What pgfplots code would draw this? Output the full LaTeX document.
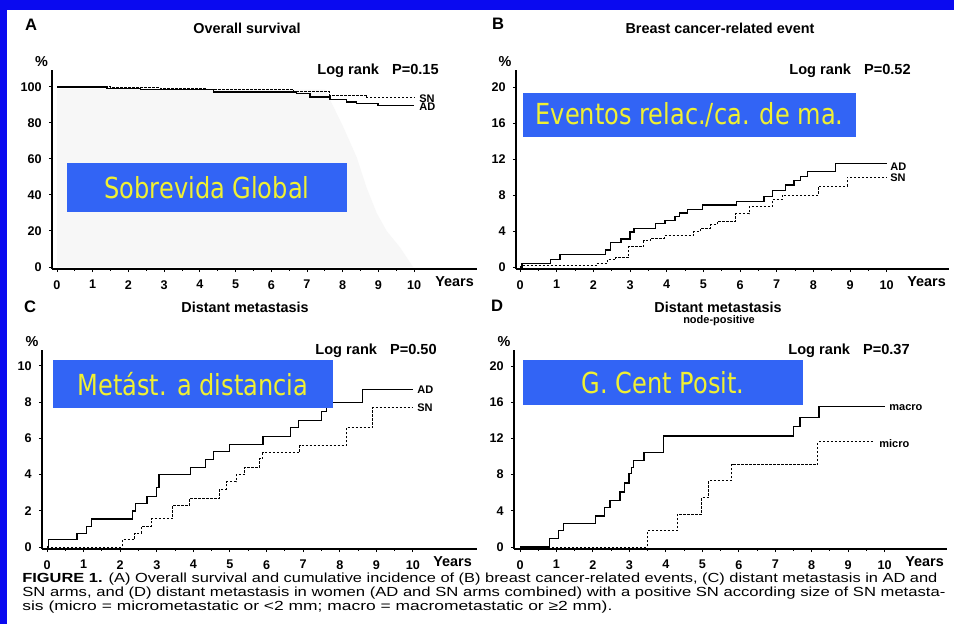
\documentclass[border=0pt]{standalone}
\usepackage{fontspec}
\setmainfont{Liberation Sans}
\newfontfamily\boxfont[FakeStretch=0.83]{DejaVu Sans}
\newfontfamily\capfont{Liberation Sans}
\usepackage{graphicx}
\usepackage{pgfplots}
\pgfplotsset{compat=1.18}
\definecolor{frameblue}{RGB}{10,10,240}
\definecolor{boxblue}{RGB}{50,100,245}
\definecolor{boxyellow}{RGB}{240,240,50}
\pgfplotsset{
  km/.style={
    scale only axis, anchor=south west,
    axis lines=left,
    axis line style={-, line width=0.9pt, black},
    tick align=outside,
    major tick length=1.6pt, minor tick length=1pt,
    tick style={black, line width=0.5pt},
    xtick={0,...,10}, minor x tick num=1,
    ticklabel style={font=\bfseries\fontsize{6.3}{7}\selectfont},
    xticklabel style={yshift=-0.5pt},
    /pgf/number format/assume math mode=true,
    clip=false,
  },
  ad/.style={const plot, black, line width=0.65pt, mark=none},
  sn/.style={const plot, black, line width=0.5pt, dash pattern=on 1.2pt off 0.8pt, mark=none},
}
\tikzset{
  ttl/.style={font=\bfseries\fontsize{7.2}{8}\selectfont, inner sep=0},
  lr/.style={font=\bfseries\fontsize{7.3}{8}\selectfont, inner sep=0},
  sm/.style={font=\bfseries\fontsize{5.5}{6}\selectfont, inner sep=0},
  pl/.style={font=\bfseries\fontsize{8.3}{9}\selectfont, inner sep=0},
  bx/.style={fill=boxblue, inner sep=0, text=boxyellow, font=\boxfont\fontsize{14.5}{16}\selectfont},
}
\begin{document}
\begin{tikzpicture}
\begin{scope}[x=0.5pt,y=-0.5pt]
\fill[frameblue] (0,0) rectangle (954,624);
\fill[white] (7,10) rectangle (954,624);
\end{scope}

% ---------- Panel A
\begin{axis}[km, at={(26pt,-134.5pt)}, width=212.5pt, height=99.5pt,
  xmin=-0.14, xmax=11.76, ymin=-1.1, ymax=109.4, ytick={0,20,...,100}]
\addplot[fill=gray!6, draw=none] coordinates {(0,98.8) (7.5,98.5) (7.74,89) (8.01,78) (8.39,61) (8.67,44) (8.95,30) (9.23,20) (9.6,11) (9.97,0)} \closedcycle;
\addplot[sn] coordinates {(0,100) (1.49,99.6) (2.89,99.1) (4.19,98.5) (6.62,97.4) (7.64,95.2) (8.67,93.9) (10,93.9)};
\addplot[ad] coordinates {(0,100) (1.4,99.1) (2.33,98.5) (4.38,97.2) (6.71,96.3) (7.08,94.4) (7.64,93.1) (8.11,91.7) (8.39,90.9) (8.99,89.6) (10,89.6)};
\end{axis}

% ---------- Panel B
\begin{axis}[km, at={(258pt,-134.5pt)}, width=216.5pt, height=99.5pt,
  xmin=-0.11, xmax=11.70, ymin=-0.22, ymax=21.9, ytick={0,4,...,20}]
\addplot[sn] coordinates {(0,0) (0.05,0.15) (2.09,0.37) (2.38,0.81) (2.61,1.1) (2.97,2.3) (3.38,2.9) (3.56,3.2) (3.93,3.5) (4.73,3.9) (4.91,4.3) (5.2,4.7) (5.38,5.1) (5.88,5.9) (6.25,6.7) (6.88,7.5) (7.15,8.0) (8.15,9.0) (8.93,10.0) (10,10.0)};
\addplot[ad] coordinates {(0,0) (0.05,0.4) (0.84,0.8) (1.09,1.4) (2.34,1.9) (2.47,2.7) (2.75,3.1) (3.0,3.9) (3.11,4.3) (3.7,4.8) (3.95,5.2) (4.23,5.6) (4.34,6.0) (4.56,6.4) (4.97,6.9) (5.91,7.3) (6.65,7.8) (6.88,8.5) (7.25,9.1) (7.47,9.6) (7.65,10.1) (7.84,10.6) (8.61,11.5) (10,11.5)};
\end{axis}

% ---------- Panel C
\begin{axis}[km, at={(21pt,-274.5pt)}, width=217.5pt, height=99.5pt,
  xmin=-0.137, xmax=11.75, ymin=-0.11, ymax=10.88, ytick={0,2,...,10}]
\addplot[sn] coordinates {(0,0) (2.06,0.41) (2.4,0.77) (2.58,1.14) (2.85,1.55) (3.44,2.3) (3.9,2.7) (4.72,3.2) (4.9,3.6) (5.17,4.0) (5.4,4.4) (5.81,4.9) (5.9,5.2) (6.9,5.6) (8.18,6.6) (8.9,7.7) (10,7.7)};
\addplot[ad] coordinates {(0,0) (0.05,0.41) (0.82,0.74) (1.07,1.14) (1.21,1.55) (2.33,1.99) (2.42,2.4) (2.73,2.77) (2.99,3.3) (3.06,4.0) (3.92,4.39) (4.34,4.83) (4.54,5.26) (4.99,5.68) (5.9,6.09) (6.65,6.59) (6.87,6.97) (7.5,7.47) (7.63,7.8) (7.75,7.97) (8.62,8.71) (10,8.71)};
\end{axis}

% ---------- Panel D
\begin{axis}[km, at={(257pt,-274.5pt)}, width=216.5pt, height=99.5pt,
  xmin=-0.165, xmax=11.71, ymin=-0.22, ymax=21.77, ytick={0,4,...,20}]
\addplot[sn] coordinates {(0,0) (3.49,1.77) (4.31,3.62) (4.98,5.46) (5.18,7.3) (5.8,9.15) (8.17,11.62) (9.7,11.62)};
\addplot[ad] coordinates {(0,0) (0.8,0.92) (1.05,1.85) (1.19,2.58) (2.07,3.43) (2.32,4.35) (2.47,5.17) (2.74,6.09) (2.87,7.08) (2.99,8.1) (3.05,8.8) (3.11,9.59) (3.4,10.44) (3.93,12.25) (7.5,13.28) (7.68,14.3) (8.2,15.5) (10,15.5)};
\end{axis}

\begin{scope}[x=0.5pt,y=-0.5pt]
% panel A texts
\node[pl] at (31,25) {A};
\node[ttl] at (247,28) {Overall survival};
\node[ttl] at (41.5,62) {\%};
\node[lr, anchor=west] at (317,71) {Log rank\hspace{6.5pt}P=0.15};
\node[sm, anchor=west] at (419,99) {SN};
\node[sm, anchor=west] at (419,107) {AD};
\node[ttl, anchor=west] at (435,282) {Years};
% panel B texts
\node[pl] at (498,24) {B};
\node[ttl] at (720,28) {Breast cancer-related event};
\node[ttl] at (505,62) {\%};
\node[lr, anchor=west] at (789,71) {Log rank\hspace{6.5pt}P=0.52};
\node[sm, anchor=west] at (890,167) {AD};
\node[sm, anchor=west] at (890,178) {SN};
\node[ttl, anchor=west] at (907,282) {Years};
% panel C texts
\node[pl] at (30,307) {C};
\node[ttl] at (245,307) {Distant metastasis};
\node[ttl] at (32,342) {\%};
\node[lr, anchor=west] at (315,351) {Log rank\hspace{6.5pt}P=0.50};
\node[sm, anchor=west] at (417,390) {AD};
\node[sm, anchor=west] at (417,408) {SN};
\node[ttl, anchor=west] at (433,562) {Years};
% panel D texts
\node[pl] at (497,306) {D};
\node[ttl] at (718,307) {Distant metastasis};
\node[sm] at (719,321) {node-positive};
\node[ttl] at (504,342) {\%};
\node[lr, anchor=west] at (788,351) {Log rank\hspace{6.5pt}P=0.37};
\node[sm, anchor=west] at (889,408) {macro};
\node[sm, anchor=west] at (879,444) {micro};
\node[ttl, anchor=west] at (905,562) {Years};
% blue boxes
\node[bx, minimum width=140pt, minimum height=24.5pt] at (207,187.5) {Sobrevida Global};
\node[bx, minimum width=166.5pt, minimum height=22pt] at (689.5,115) {Eventos relac./ca. de ma.};
\node[bx, minimum width=140pt, minimum height=24pt] at (193,384) {Metást. a distancia};
\node[bx, minimum width=140pt, minimum height=22.5pt] at (663,382.5) {G. Cent Posit.};
% caption
\node[anchor=base west, inner sep=0] at (22,583) {\resizebox{457.5pt}{\height}{\capfont\fontsize{6.6}{7}\selectfont\textbf{FIGURE 1.} (A) Overall survival and cumulative incidence of (B) breast cancer-related events, (C) distant metastasis in AD and}};
\node[anchor=base west, inner sep=0] at (22,597) {\resizebox{461.5pt}{\height}{\capfont\fontsize{6.6}{7}\selectfont SN arms, and (D) distant metastasis in women (AD and SN arms combined) with a positive SN according size of SN metasta-}};
\node[anchor=base west, inner sep=0] at (22,611) {\resizebox{295pt}{\height}{\capfont\fontsize{6.6}{7}\selectfont sis (micro = micrometastatic or <2 mm; macro = macrometastatic or ≥2 mm).}};
\end{scope}
\end{tikzpicture}
\end{document}
